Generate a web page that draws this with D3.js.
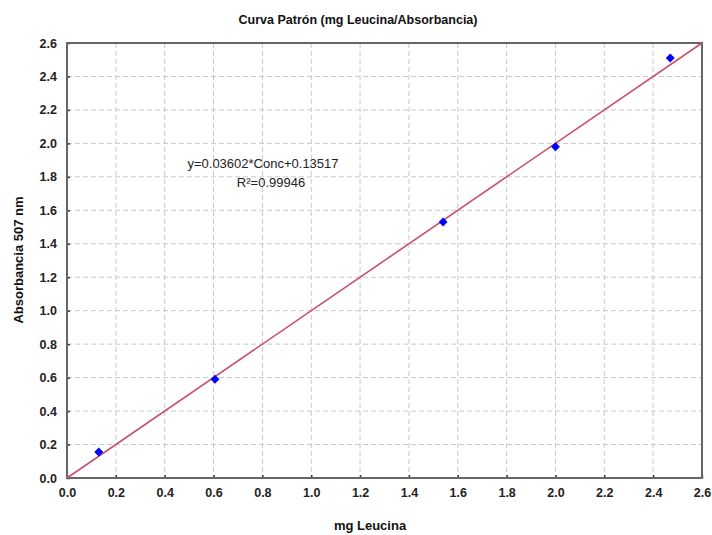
<!DOCTYPE html>
<html>
<head>
<meta charset="utf-8">
<script src="https://cdn.jsdelivr.net/npm/d3@7/dist/d3.min.js"></script>
<style>
  body { margin: 0; background: #fff; }
  svg { display: block; }
  text { font-family: "Liberation Sans", Arial, sans-serif; }
</style>
</head>
<body>
<svg id="chart" width="712" height="535"></svg>
<script>
// Standard curve: mg leucine vs absorbance at 507 nm
const mgLeucina = [0.13, 0.606, 1.54, 2.0, 2.47];
const absorbancia = [0.155, 0.59, 1.53, 1.98, 2.51];
// Fitted line endpoints (x, y)
const fitX = [0.0, 2.6];
const fitY = [0.0, 2.6];
const ticks = [0.0, 0.2, 0.4, 0.6, 0.8, 1.0, 1.2, 1.4, 1.6, 1.8, 2.0, 2.2, 2.4, 2.6];
const equationLines = ["y=0.03602*Conc+0.13517", "R²=0.99946"];

const svg = d3.select("#chart");
const m = { left: 67, right: 702, top: 43, bottom: 478 };

const x = d3.scaleLinear().domain([0, 2.6]).range([m.left, m.right]);
const y = d3.scaleLinear().domain([0, 2.6]).range([m.bottom, m.top]);

// grid
const grid = svg.append("g");
grid.selectAll(".gx").data(ticks.slice(1, -1)).enter().append("line")
  .attr("x1", d => x(d)).attr("x2", d => x(d))
  .attr("y1", m.top).attr("y2", m.bottom)
  .attr("stroke", "#c8c8c8").attr("stroke-width", 1).attr("stroke-dasharray", "5,3");
grid.selectAll(".gy").data(ticks.slice(1, -1)).enter().append("line")
  .attr("y1", d => y(d)).attr("y2", d => y(d))
  .attr("x1", m.left).attr("x2", m.right)
  .attr("stroke", "#c8c8c8").attr("stroke-width", 1).attr("stroke-dasharray", "5,3");

// axes
const fmt = d3.format(".1f");
const xAxis = svg.append("g")
  .attr("transform", `translate(0,${m.bottom})`)
  .call(d3.axisBottom(x).tickValues(ticks).tickFormat(fmt).tickSize(-3).tickPadding(10));
const yAxis = svg.append("g")
  .attr("transform", `translate(${m.left},0)`)
  .call(d3.axisLeft(y).tickValues(ticks).tickFormat(fmt).tickSize(-3).tickPadding(10));
[xAxis, yAxis].forEach(g => {
  g.select(".domain").remove();
  g.selectAll(".tick line").attr("stroke", "#333").attr("stroke-width", 1.5);
  g.selectAll(".tick text")
    .attr("font-size", 12.5).attr("font-weight", "bold").attr("fill", "#222");
});

// frame
svg.append("rect")
  .attr("x", m.left).attr("y", m.top)
  .attr("width", m.right - m.left).attr("height", m.bottom - m.top)
  .attr("fill", "none").attr("stroke", "#666").attr("stroke-width", 2);

// fitted line
svg.append("path")
  .datum(d3.zip(fitX, fitY))
  .attr("d", d3.line().x(d => x(d[0])).y(d => y(d[1])))
  .attr("stroke", "#c8506e").attr("stroke-width", 1.6).attr("fill", "none");

// data points
svg.append("g").selectAll("path").data(d3.zip(mgLeucina, absorbancia)).enter().append("path")
  .attr("transform", d => `translate(${x(d[0])},${y(d[1])}) rotate(45)`)
  .attr("d", d3.symbol().type(d3.symbolSquare).size(40))
  .attr("fill", "#0000ff");

// equation annotation
svg.append("text").attr("x", 263).attr("y", 168).attr("text-anchor", "middle")
  .attr("font-size", 13).attr("fill", "#222").text(equationLines[0]);
svg.append("text").attr("x", 271).attr("y", 187).attr("text-anchor", "middle")
  .attr("font-size", 13).attr("fill", "#222").text(equationLines[1]);

// titles
svg.append("text").attr("x", 358).attr("y", 24).attr("text-anchor", "middle")
  .attr("font-size", 12.5).attr("font-weight", "bold").attr("fill", "#111")
  .text("Curva Patrón (mg Leucina/Absorbancia)");
svg.append("text").attr("x", 370).attr("y", 530).attr("text-anchor", "middle")
  .attr("font-size", 13).attr("font-weight", "bold").attr("fill", "#111")
  .text("mg Leucina");
svg.append("text").attr("transform", "translate(23,260) rotate(-90)").attr("text-anchor", "middle")
  .attr("font-size", 13).attr("font-weight", "bold").attr("fill", "#111")
  .text("Absorbancia 507 nm");
</script>
</body>
</html>
